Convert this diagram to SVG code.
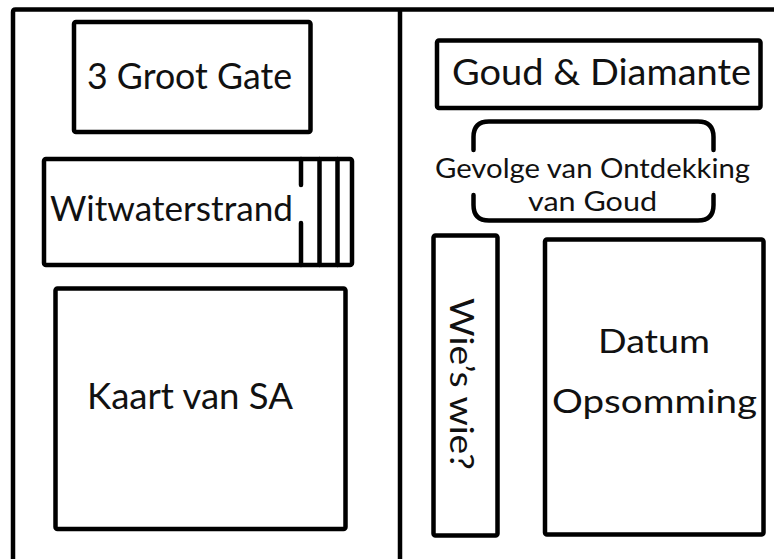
<svg xmlns="http://www.w3.org/2000/svg" width="774" height="559" viewBox="0 0 774 559">
<style>
.box{fill:none;stroke:#000;stroke-width:4.5;stroke-linejoin:round;stroke-linecap:round}
.frame{fill:none;stroke:#000;stroke-width:4.5;stroke-linejoin:round}
.t{font-family:Lato,"Open Sans","Liberation Sans",sans-serif;fill:#111}
</style>
<rect width="774" height="559" fill="#fff"/>
<g id="frame">
<path class="frame" d="M13,559 V12 Q13,9.5 15.5,9.5 H774"/>
<line class="frame" x1="400" y1="9.5" x2="400" y2="559"/>
</g>
<g id="groot-gate">
<rect class="box" x="74" y="22" width="236.5" height="110" rx="2"/>
<text class="t" x="87" y="89" font-size="36" textLength="205" lengthAdjust="spacingAndGlyphs">3 Groot Gate</text>
</g>
<g id="witwaterstrand">
<rect class="box" x="44" y="159" width="308" height="106" rx="2"/>
<path class="box" d="M301,159 V185 M301,223 V265 M319.5,159 V265 M337.5,159 V265"/>
<text class="t" x="50" y="221" font-size="35" textLength="243" lengthAdjust="spacingAndGlyphs">Witwaterstrand</text>
</g>
<g id="kaart">
<rect class="box" x="55.5" y="288.5" width="290" height="240.5" rx="2"/>
<text class="t" x="87" y="409" font-size="36" textLength="206" lengthAdjust="spacingAndGlyphs">Kaart van SA</text>
</g>
<g id="goud-diamante">
<rect class="box" x="437" y="40.5" width="323.5" height="67.5" rx="2"/>
<text class="t" x="452" y="85" font-size="37" textLength="299" lengthAdjust="spacingAndGlyphs">Goud &amp; Diamante</text>
</g>
<g id="gevolge">
<path class="box" d="M473.5,150 V137 Q473.5,121.5 489,121.5 H698 Q713.5,121.5 713.5,137 V150 M473.5,195 V205 Q473.5,220.5 489,220.5 H698 Q713.5,220.5 713.5,205 V195"/>
<text class="t" x="435" y="178" font-size="26" textLength="315" lengthAdjust="spacingAndGlyphs">Gevolge van Ontdekking</text>
<text class="t" x="528" y="211" font-size="27" textLength="129" lengthAdjust="spacingAndGlyphs">van Goud</text>
</g>
<g id="wies-wie">
<rect class="box" x="433.5" y="235.5" width="64" height="300" rx="2"/>
<text class="t" transform="translate(450,384) rotate(90)" x="0" y="0" font-size="32" text-anchor="middle" textLength="172" lengthAdjust="spacingAndGlyphs">Wie’s wie?</text>
</g>
<g id="datum">
<rect class="box" x="545" y="239.5" width="218.5" height="295" rx="2"/>
<text class="t" x="598" y="353" font-size="32" textLength="112" lengthAdjust="spacingAndGlyphs">Datum</text>
<text class="t" x="552" y="413" font-size="32" textLength="205" lengthAdjust="spacingAndGlyphs">Opsomming</text>
</g>
<g id="connectors"></g>
</svg>
